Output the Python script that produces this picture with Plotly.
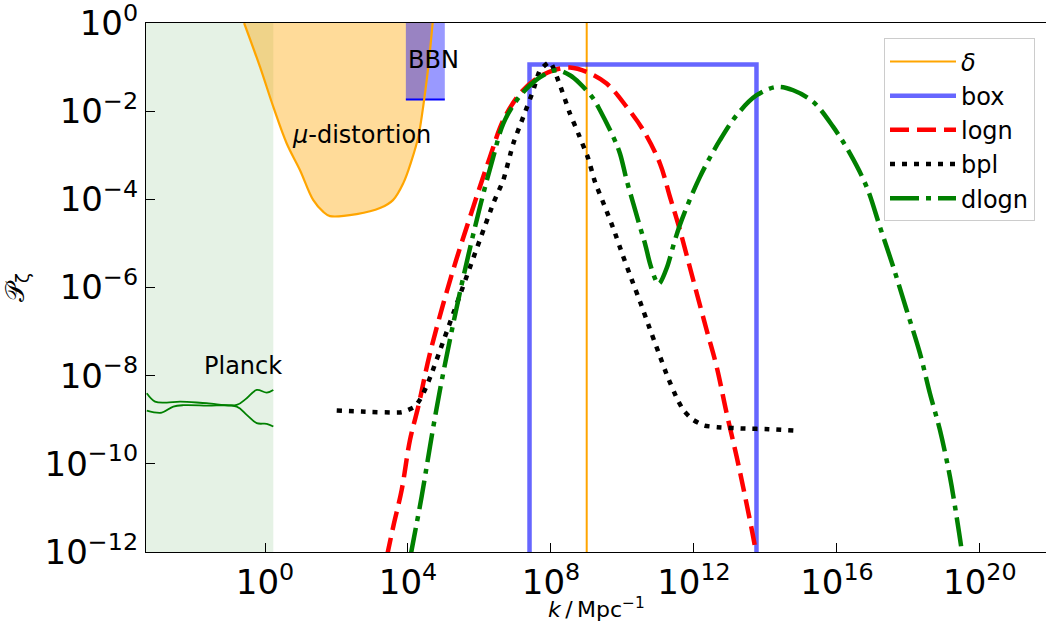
import plotly.graph_objects as go

# ---------------- data (log10 values) ----------------
planck_band_log10k_max = 0.232

planck_upper_log10k = [-3.309, -3.077, -2.750, -2.378, -1.631, -0.792, -0.512, -0.232, 0.048, 0.232]
planck_upper_log10P = [-8.398, -8.588, -8.611, -8.588, -8.625, -8.663, -8.511, -8.323, -8.384, -8.323]
planck_lower_log10k = [-3.309, -2.890, -2.566, -2.285, -1.631, -0.792, -0.512, -0.232, 0.048, 0.232]
planck_lower_log10P = [-8.792, -8.838, -8.702, -8.670, -8.679, -8.702, -8.890, -9.078, -9.093, -9.155]

mu_log10k = [-0.585, -0.140, 0.232, 0.607, 0.979, 1.351, 1.631, 1.818, 2.565, 3.217,
             3.580, 3.869, 4.103, 4.288, 4.411, 4.476, 4.568, 4.690]
mu_log10P = [0.0, -0.997, -1.903, -2.733, -3.338, -4.018, -4.283, -4.380, -4.335, -4.199,
             -4.018, -3.632, -3.111, -2.583, -1.978, -1.593, -0.997, 0.0]

bbn_log10k = [3.94, 5.03]
bbn_log10P_min = -1.736

delta_log10k = 9.0

box_log10k = [7.40, 13.75]
box_log10P = -0.943

logn_log10k = [3.41, 3.449, 3.589, 3.824, 4.056, 4.288, 4.428, 4.615, 5.203, 5.827, 6.294,
               6.666, 7.133, 7.600, 8.064, 8.531, 8.999, 9.558, 10.118, 10.582, 11.049,
               11.329, 11.608, 11.980, 12.355, 12.635, 12.915, 13.194, 13.427, 13.706, 13.76]
logn_log10P = [-12.1, -11.95, -11.42, -10.59, -9.456, -8.702, -8.171, -7.491, -5.763, -4.170,
               -3.037, -2.205, -1.600, -1.260, -1.072, -1.011, -1.110, -1.373, -1.903, -2.431,
               -3.186, -3.943, -4.698, -5.831, -6.964, -7.795, -8.851, -9.835, -10.725,
               -11.874, -12.2]

bpl_log10k = [2.006, 2.705, 3.824, 4.196, 4.383, 4.523, 4.663, 6.386, 6.666, 6.946, 7.225,
              7.505, 7.692, 7.972, 8.252, 8.531, 8.764, 9.043, 9.231, 9.510, 9.762, 10.006,
              10.257, 10.509, 10.750, 11.001, 11.253, 11.544, 11.720, 11.980, 12.288,
              12.652, 13.379, 14.098, 14.825]
bpl_log10P = [-8.792, -8.815, -8.829, -8.702, -8.475, -8.233, -7.945, -4.092, -3.564, -2.733,
              -2.130, -1.525, -1.072, -0.884, -1.412, -2.053, -2.506, -3.073, -3.603, -4.170,
              -4.698, -5.264, -5.815, -6.359, -6.902, -7.455, -8.006, -8.550, -8.800, -9.004,
              -9.132, -9.168, -9.200, -9.214, -9.245]

dlogn_log10k = [4.07, 4.103, 4.383, 4.615, 4.895, 5.455, 6.014, 6.386, 6.666, 7.041, 7.413,
                7.785, 8.159, 8.531, 8.811, 9.183, 9.371, 9.743, 9.930, 10.117, 10.302,
                10.490, 10.629, 10.769, 10.909, 10.993, 11.049, 11.236, 11.469, 11.656,
                12.168, 12.727, 13.194, 13.754, 14.313, 14.778, 15.337, 15.897, 16.364,
                16.831, 17.203, 17.575, 17.950, 18.322, 18.601, 18.881, 19.161, 19.348,
                19.488, 19.52]
dlogn_log10P = [-12.1, -11.95, -10.74, -9.608, -8.323, -6.102, -4.170, -3.037, -2.280, -1.752,
                -1.412, -1.185, -1.072, -1.185, -1.373, -1.713, -1.978, -2.583, -2.959,
                -3.565, -4.092, -4.623, -4.999, -5.452, -5.792, -5.921, -5.898, -5.565,
                -4.924, -4.471, -3.490, -2.658, -2.092, -1.638, -1.450, -1.525, -1.790,
                -2.357, -2.959, -3.716, -4.623, -5.529, -6.510, -7.491, -8.398, -9.229,
                -10.288, -11.194, -11.949, -12.18]

x_tick_exps = [0, 4, 8, 12, 16, 20]
y_tick_exps = [0, -2, -4, -6, -8, -10, -12]


def pw(vals):
    return [10.0 ** v for v in vals]


FONT = "DejaVu Sans"
fig = go.Figure()

# Planck band
fig.add_trace(go.Scatter(
    x=pw([-5, planck_band_log10k_max, planck_band_log10k_max, -5]),
    y=pw([-14, -14, 1, 1]), mode="lines", fill="toself",
    fillcolor="rgba(0,128,0,0.1)", line=dict(width=0),
    showlegend=False, hoverinfo="skip"))

# mu-distortion fill
fig.add_trace(go.Scatter(
    x=pw(mu_log10k), y=pw(mu_log10P), mode="lines", fill="toself",
    fillcolor="rgba(255,165,0,0.4)", line=dict(width=0, shape="spline"),
    showlegend=False, hoverinfo="skip"))

# BBN fill
fig.add_trace(go.Scatter(
    x=pw([bbn_log10k[0], bbn_log10k[1], bbn_log10k[1], bbn_log10k[0]]),
    y=pw([bbn_log10P_min, bbn_log10P_min, 1, 1]), mode="lines", fill="toself",
    fillcolor="rgba(0,0,255,0.4)", line=dict(width=0),
    showlegend=False, hoverinfo="skip"))
fig.add_trace(go.Scatter(
    x=pw(bbn_log10k), y=pw([bbn_log10P_min, bbn_log10P_min]), mode="lines",
    line=dict(color="blue", width=2), showlegend=False, hoverinfo="skip"))

# mu-distortion boundary
fig.add_trace(go.Scatter(
    x=pw(mu_log10k), y=pw(mu_log10P), mode="lines",
    line=dict(color="orange", width=2.2, shape="spline"),
    showlegend=False, hoverinfo="skip"))

# Planck lines
for xs, ys in [(planck_upper_log10k, planck_upper_log10P),
               (planck_lower_log10k, planck_lower_log10P)]:
    fig.add_trace(go.Scatter(
        x=pw(xs), y=pw(ys), mode="lines",
        line=dict(color="green", width=1.8, shape="spline"),
        showlegend=False, hoverinfo="skip"))

# delta
fig.add_trace(go.Scatter(
    x=pw([delta_log10k, delta_log10k]), y=pw([-14, 1]), mode="lines",
    name="<i>δ</i>", line=dict(color="orange", width=2), legendgroup="a"))

# box
fig.add_trace(go.Scatter(
    x=pw([box_log10k[0], box_log10k[0], box_log10k[1], box_log10k[1]]),
    y=pw([-14, box_log10P, box_log10P, -14]), mode="lines",
    name="box", line=dict(color="rgba(0,0,255,0.6)", width=4.5), legendgroup="b"))

# logn
fig.add_trace(go.Scatter(
    x=pw(logn_log10k), y=pw(logn_log10P), mode="lines", name="logn",
    line=dict(color="red", width=4.5, dash="19px,8px", shape="spline"), legendgroup="c"))

# bpl
fig.add_trace(go.Scatter(
    x=pw(bpl_log10k), y=pw(bpl_log10P), mode="lines", name="bpl",
    line=dict(color="black", width=4.5, dash="5px,7px", shape="spline", smoothing=0.5),
    legendgroup="d"))

# dlogn
fig.add_trace(go.Scatter(
    x=pw(dlogn_log10k), y=pw(dlogn_log10P), mode="lines", name="dlogn",
    line=dict(color="green", width=4.5, dash="29px,7px,5px,7px", shape="spline"),
    legendgroup="e"))

annos = [
    dict(x=-0.63, y=-7.78, text="Planck", xanchor="center", yanchor="middle"),
    dict(x=2.705, y=-2.55, text="<i>μ</i>-distortion", xanchor="center", yanchor="middle"),
    dict(x=3.944, y=-0.84, text="BBN", xanchor="left", yanchor="middle"),
]
for a in annos:
    fig.add_annotation(xref="x", yref="y", showarrow=False,
                       font=dict(family=FONT, size=24, color="black"), **a)

# x-axis title as a paper annotation (sits just under the tick labels)
fig.add_annotation(xref="paper", yref="paper", x=0.5, y=-0.105, showarrow=False,
                   xanchor="center", yanchor="middle",
                   text="<i>k</i>\u2009/\u2009Mpc<sup>−1</sup>",
                   font=dict(family=FONT, size=22, color="black"))

fig.update_layout(
    width=1046, height=624, autosize=False,
    margin=dict(l=146, r=0, t=23, b=72),
    plot_bgcolor="white", paper_bgcolor="white",
    font=dict(family=FONT, color="black"),
    legend=dict(x=0.82, y=0.971, xanchor="left", yanchor="top",
                bgcolor="rgba(255,255,255,0.8)", bordercolor="#cccccc", borderwidth=1,
                font=dict(family=FONT, size=24, color="black"),
                traceorder="grouped", tracegroupgap=0, itemwidth=66),
    showlegend=True,
)

fig.update_xaxes(
    type="log", range=[-3.33, 21.85],
    tickvals=pw(x_tick_exps),
    ticktext=["10<sup>%s</sup>" % str(e).replace("-", "−") for e in x_tick_exps],
    ticks="inside", ticklen=9, tickwidth=1, tickcolor="black",
    showline=True, linecolor="black", linewidth=1.2, mirror=True,
    showgrid=False, tickfont=dict(family=FONT, size=34, color="black"),
    ticklabeloverflow="allow",
)
fig.update_yaxes(
    type="log", range=[-12.0005, 0.0005],
    tickvals=pw(y_tick_exps),
    ticktext=["10<sup>%s</sup>" % str(e).replace("-", "−") for e in y_tick_exps],
    ticks="inside", ticklen=9, tickwidth=1, tickcolor="black",
    showline=True, linecolor="black", linewidth=1.2, mirror=False,
    showgrid=False, tickfont=dict(family=FONT, size=34, color="black"),
    ticklabeloverflow="allow",
    title=dict(text="𝒫<sub>ζ</sub>", font=dict(family=FONT, size=26, color="black"),
               standoff=18),
)

fig.write_html("out.html")
